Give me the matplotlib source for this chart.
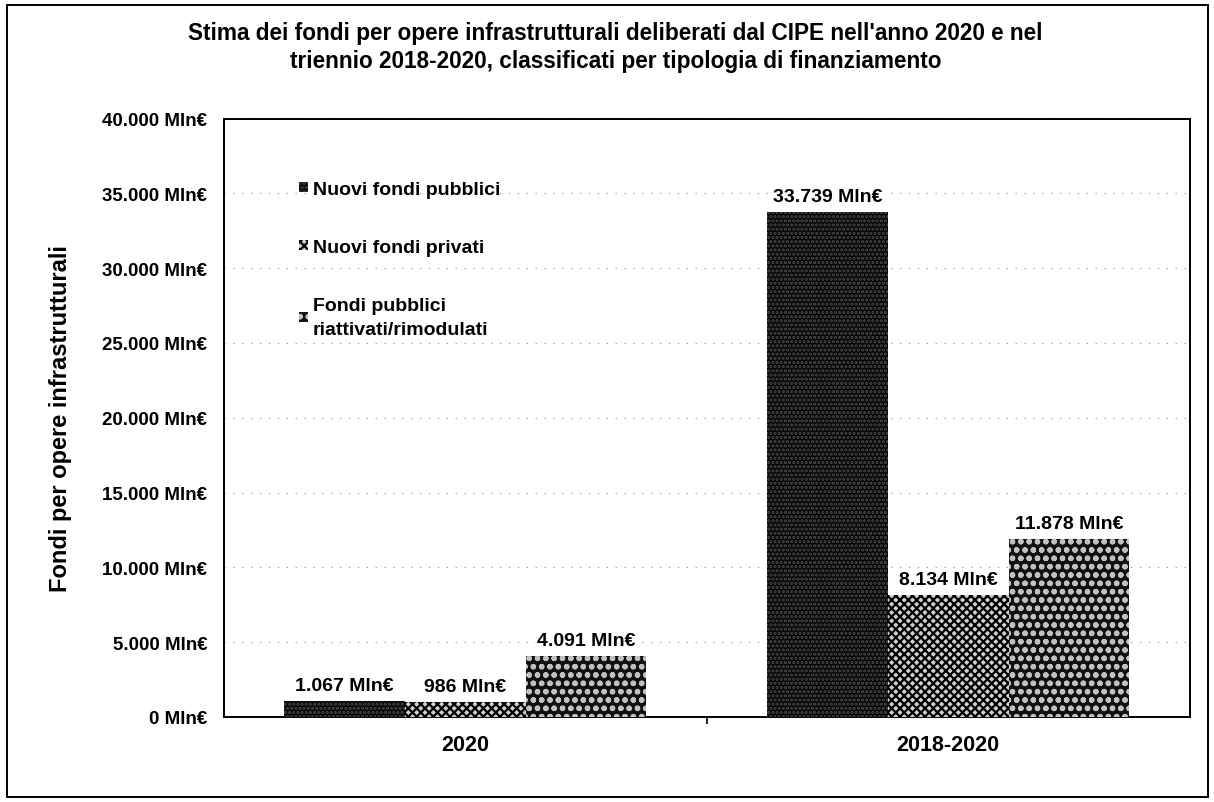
import matplotlib.pyplot as plt
import numpy as np
from matplotlib.patches import Rectangle
from matplotlib.ticker import FuncFormatter, MultipleLocator

plt.rcParams["font.family"] = ["Liberation Sans", "DejaVu Sans"]
plt.rcParams["font.weight"] = "bold"
plt.rcParams["hatch.linewidth"] = 1.6

# --- data (Mln€) ---
periodi = ["2020", "2018-2020"]
serie = ["Nuovi fondi pubblici", "Nuovi fondi privati",
         "Fondi pubblici\nriattivati/rimodulati"]
nuovi_pubblici = [1067, 33739]
nuovi_privati = [986, 8134]
riattivati = [4091, 11878]

valori = [nuovi_pubblici, nuovi_privati, riattivati]
stili = [
    dict(facecolor="#050505", edgecolor="#4a4a4a", hatch="...."),
    dict(facecolor="#d0d0d0", edgecolor="black", hatch="xxxx"),
    dict(facecolor="#111111", edgecolor="#c0c0c0", hatch="oo"),
]


def mln(v, pos=None):
    return f"{v:,.0f}".replace(",", ".") + " Mln€"


fig = plt.figure(figsize=(12.14, 8.03), dpi=100)
ax = fig.add_axes([0.1845, 0.106, 0.7955, 0.745])

x = np.arange(len(periodi))
w = 0.25
for i, (vals, st) in enumerate(zip(valori, stili)):
    bars = ax.bar(x + (i - 1) * w, vals, w, linewidth=0, label=serie[i], zorder=3, **st)
    for b, v in zip(bars, vals):
        ax.annotate(mln(v), (b.get_x() + b.get_width() / 2, v),
                    xytext=(0, 5), textcoords="offset points",
                    ha="center", va="bottom", fontsize=14, fontweight="bold",
                    bbox=dict(facecolor="white", edgecolor="none", pad=1), zorder=4)

ax.set_xlim(-0.5, 1.5)
ax.set_ylim(0, 40000)
ax.yaxis.set_major_locator(MultipleLocator(5000))
ax.yaxis.set_major_formatter(FuncFormatter(mln))
ax.grid(True, axis="y", color="#888888", linestyle=(0, (1, 7)), linewidth=0.8, zorder=0)

ax.set_xticks(x)
ax.set_xticklabels(periodi, fontsize=15.5, fontweight="bold")
ax.set_xticks([0.5], minor=True)
ax.tick_params(axis="x", which="major", length=0, pad=12)
ax.tick_params(axis="x", which="minor", length=5, width=1.2, direction="out")
ax.tick_params(axis="y", length=0, pad=12, labelsize=13.5)
for s in ax.spines.values():
    s.set_linewidth(1.4)

ax.set_ylabel("Fondi per opere infrastrutturali", fontsize=17, fontweight="bold", labelpad=22)

leg = ax.legend(loc="upper left", bbox_to_anchor=(0.06, 0.925), frameon=False,
                handlelength=0.45, handleheight=0.45, handletextpad=0.25,
                labelspacing=2.1, prop=dict(size=14, weight="bold"))
leg.get_texts()[2].set_linespacing(1.6)

fig.text(0.507, 0.973, "Stima dei fondi per opere infrastrutturali deliberati dal CIPE nell'anno 2020 e nel\n"
         "triennio 2018-2020, classificati per tipologia di finanziamento",
         ha="center", va="top", fontsize=16.3, fontweight="bold", linespacing=1.3)

# outer frame around the whole chart
fig.patches.append(Rectangle((7 / 1214, 5 / 803), 1201 / 1214, 792 / 803,
                             transform=fig.transFigure, fill=False,
                             edgecolor="black", linewidth=1.4))

fig.savefig("out.png", dpi=100)
